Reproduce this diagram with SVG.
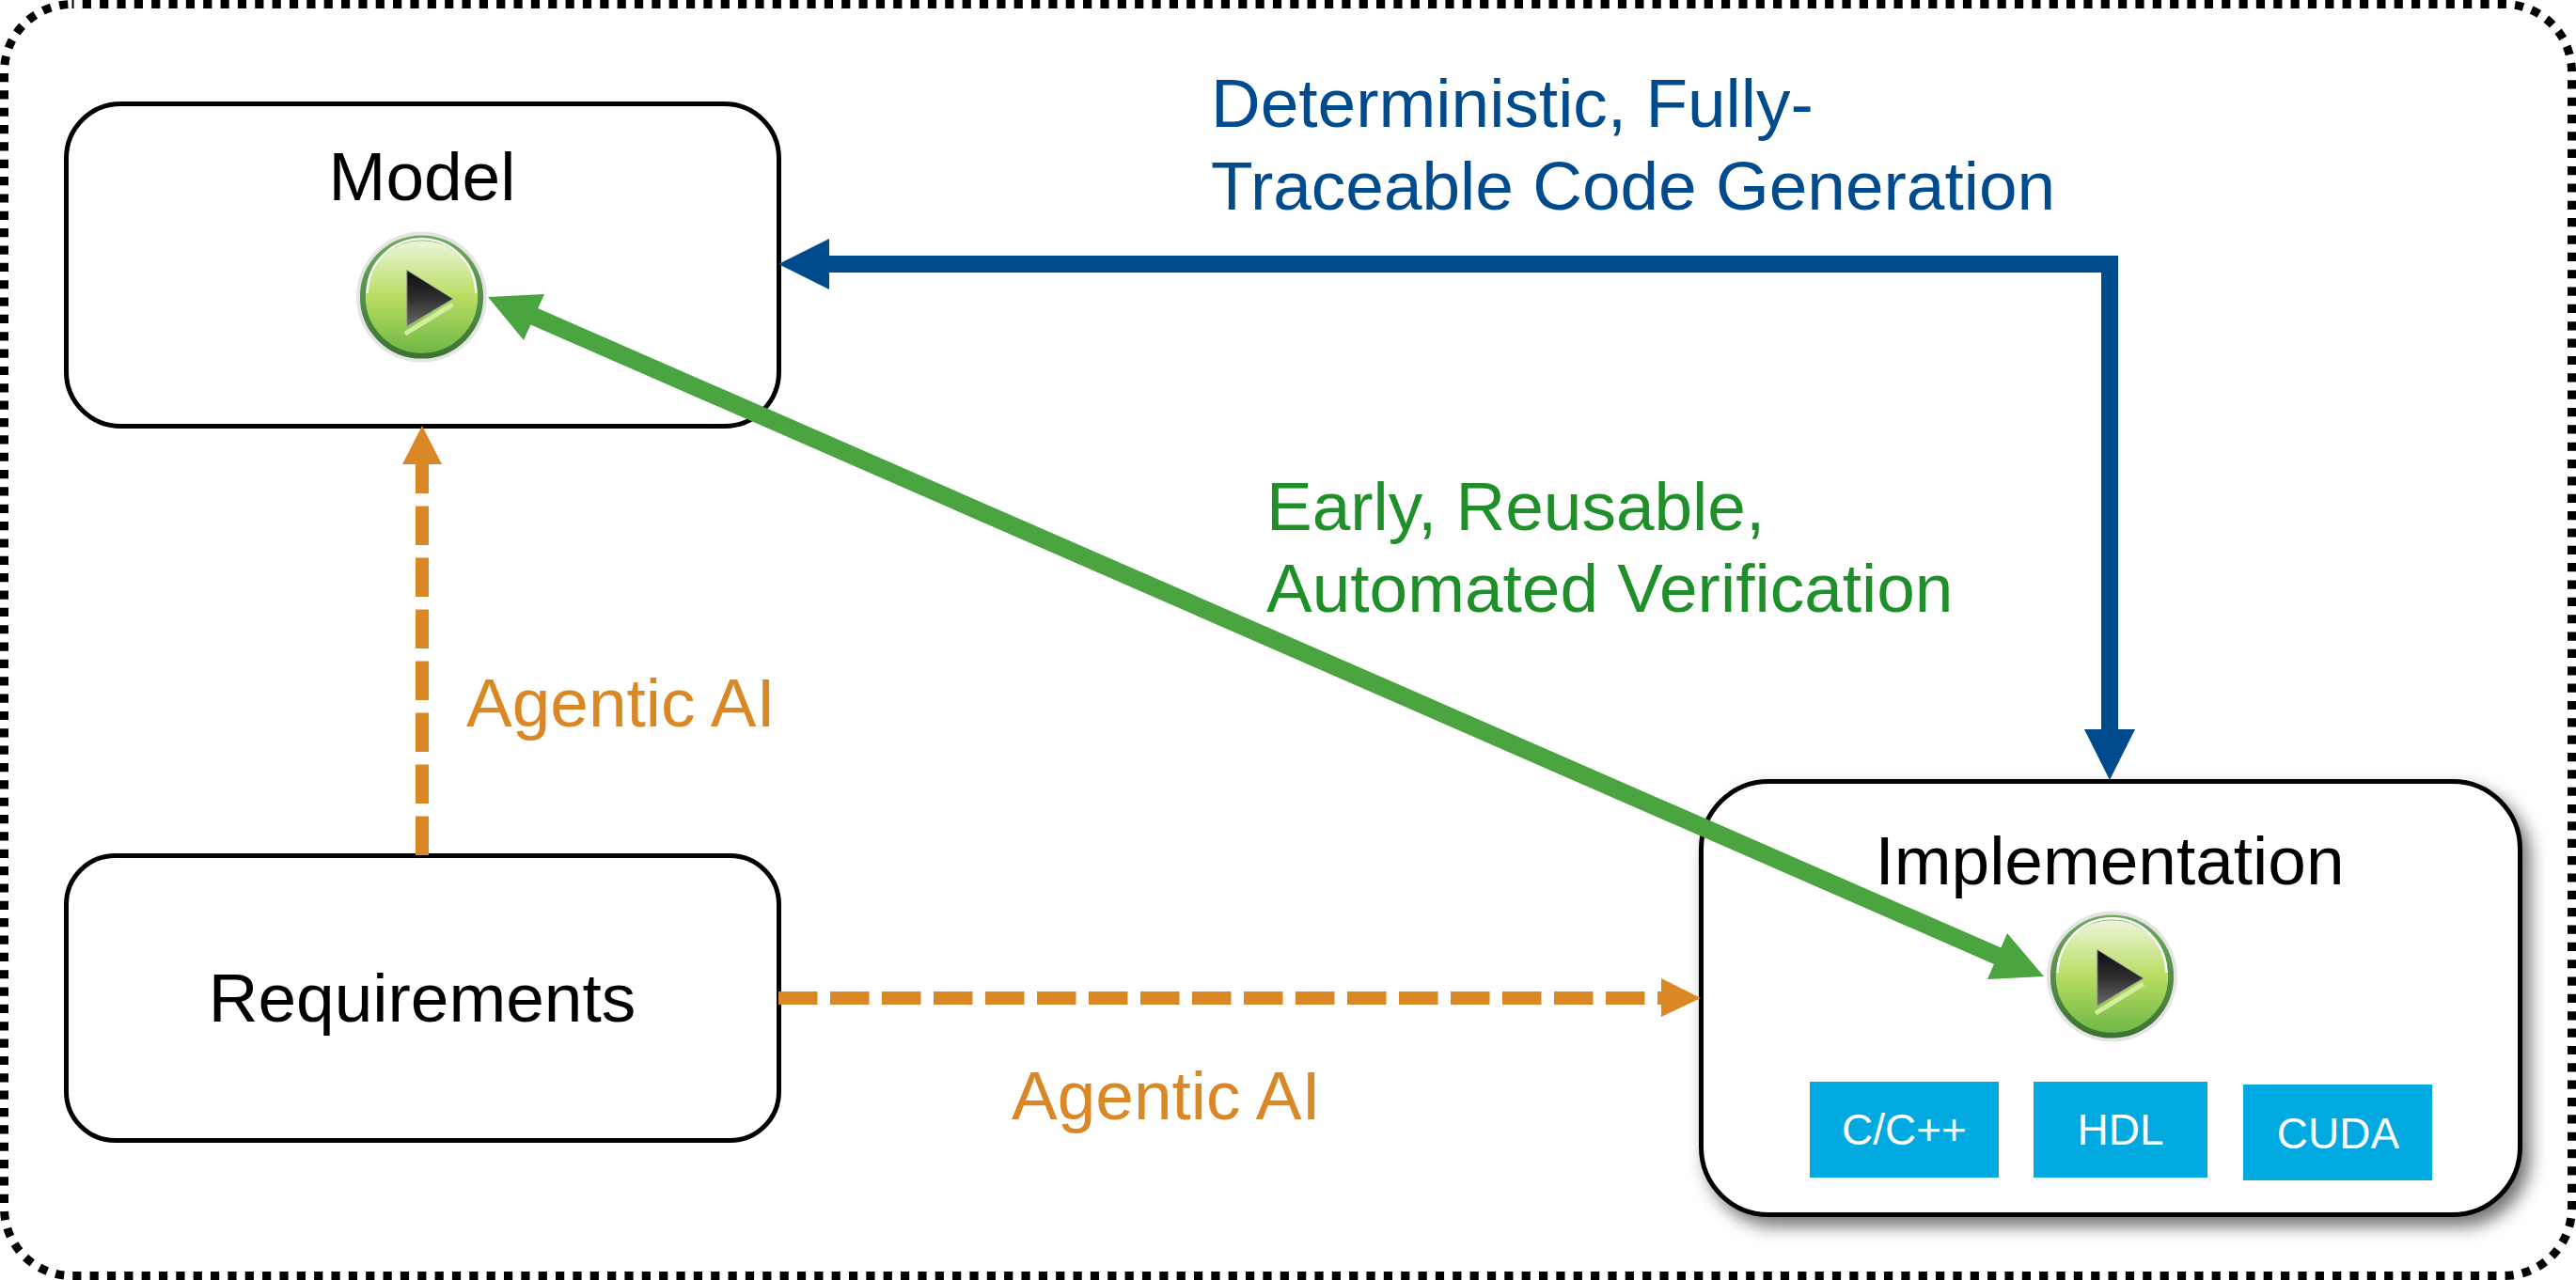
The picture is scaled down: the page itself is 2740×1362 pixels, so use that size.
<svg xmlns="http://www.w3.org/2000/svg" width="2740" height="1362" viewBox="0 0 2740 1362">
<style>
text{font-family:"Liberation Sans",Arial,sans-serif;font-size:73px}
.box{fill:#fff;stroke:#000;stroke-width:5}
.name{fill:#000;text-anchor:middle}
.blue{fill:#004b8d}.green{fill:#1f8f2a}.orange{fill:#d98825}
.chip{fill:#00a9e0}
.chipt{fill:#fff;font-size:46px;text-anchor:middle}
.dash{fill:none;stroke:#d98825;stroke-width:14;stroke-dasharray:41.5 13.5}
</style>
<defs>
<filter id="sh" x="-5%" y="-5%" width="112%" height="115%"><feDropShadow dx="8" dy="10" stdDeviation="9" flood-color="#000" flood-opacity=".55"/></filter>
<linearGradient id="ig" x1="0" y1="0" x2="0" y2="1"><stop offset="0" stop-color="#eef6dd"/><stop offset=".5" stop-color="#b9dd62"/><stop offset="1" stop-color="#6cb644"/></linearGradient>
<linearGradient id="rg" x1="0" y1="0" x2="0" y2="1"><stop offset="0" stop-color="#6fa95c"/><stop offset="1" stop-color="#3b7434"/></linearGradient>
<linearGradient id="tg" x1="0" y1="0" x2="0" y2="1"><stop offset="0" stop-color="#0d0d0d"/><stop offset=".5" stop-color="#2e2e2e"/><stop offset="1" stop-color="#6a6a6a"/></linearGradient>
<symbol id="play" viewBox="-71 -71 142 142" overflow="visible">
<circle r="71" fill="#e4e4e4"/>
<circle r="64" fill="url(#ig)" stroke="url(#rg)" stroke-width="6"/>
<path d="M-59 -4A59 59 0 0 1 59 -4" fill="none" stroke="#fff" stroke-width="2.5"/>
<path d="M-18 40L34 8" stroke="#d2eda0" stroke-width="5" fill="none"/>
<path d="M-16 -29L34 2L-16 32Z" fill="url(#tg)" stroke="#999" stroke-width="1"/>
</symbol>
</defs>
<rect id="frame" x="4.5" y="4.5" width="2731" height="1353" rx="72" fill="none" stroke="#000" stroke-width="9" stroke-dasharray="9.2 9.15" stroke-dashoffset="7.1"/>
<g id="model">
<rect class="box" x="70.5" y="110.5" width="758" height="343" rx="58"/>
<text class="name" x="449" y="213">Model</text>
<use href="#play" x="379" y="244" width="139" height="144" preserveAspectRatio="none"/>
</g>
<g id="requirements">
<rect class="box" x="70.5" y="910.5" width="758" height="303" rx="52"/>
<text class="name" x="449" y="1087">Requirements</text>
</g>
<g id="implementation">
<rect class="box" x="1809.5" y="831.5" width="871" height="461" rx="72" filter="url(#sh)"/>
<text class="name" x="2244" y="941">Implementation</text>
<use href="#play" x="2177" y="967" width="139" height="144" preserveAspectRatio="none"/>
<rect class="chip" x="1925" y="1151" width="201" height="102"/>
<text class="chipt" x="2025.5" y="1218">C/C++</text>
<rect class="chip" x="2163" y="1151" width="185" height="102"/>
<text class="chipt" x="2255.5" y="1218">HDL</text>
<rect class="chip" x="2386" y="1154" width="201" height="102"/>
<text class="chipt" x="2487" y="1222">CUDA</text>
</g>
<g id="connectors">
<path fill="none" stroke="#004b8d" stroke-width="18" d="M880 281H2244V778"/>
<path fill="#004b8d" d="M828 281L882 254V308Z"/>
<path fill="#004b8d" d="M2244 830L2217 776H2271Z"/>
<path class="dash" d="M449 910V494"/>
<path fill="#d98825" d="M449 453L470 494H428Z"/>
<path class="dash" d="M828 1062H1769"/>
<path fill="#d98825" d="M1809 1062L1767 1041V1082Z"/>
<path fill="none" stroke="#4aa540" stroke-width="19" d="M566.5 336L2126.5 1018"/>
<path fill="#4aa540" d="M519 316L579 313L557 362Z"/>
<path fill="#4aa540" d="M2174 1039L2135 993L2114 1042Z"/>
</g>
<g id="labels">
<text class="blue" x="1288" y="135">Deterministic, Fully-</text>
<text class="blue" x="1288" y="223">Traceable Code Generation</text>
<text class="green" x="1347" y="564">Early, Reusable,</text>
<text class="green" x="1347" y="651">Automated Verification</text>
<text class="orange" x="496" y="773">Agentic AI</text>
<text class="orange" x="1076" y="1191">Agentic AI</text>
</g>
</svg>
